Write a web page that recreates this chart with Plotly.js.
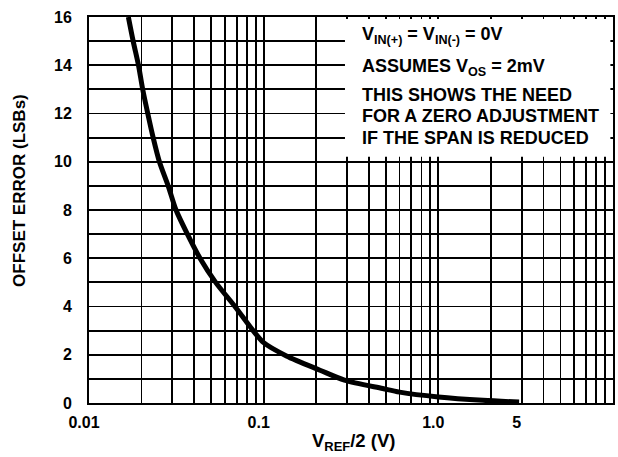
<!DOCTYPE html>
<html>
<head>
<meta charset="utf-8">
<script src="https://cdn.plot.ly/plotly-3.0.1.min.js"></script>
<style>html,body{margin:0;padding:0;background:#fff;}#chart{width:618px;height:457px;}</style>
</head>
<body>
<div id="chart"></div>
<script>
// Curve
var vrefHalf = [0.0168, 0.0179, 0.0192, 0.0203, 0.0217, 0.0233, 0.0253, 0.0284, 0.0315, 0.0366, 0.0432, 0.0531, 0.0685, 0.087, 0.1, 0.135, 0.21, 0.29, 0.48, 0.6, 1.0, 1.8, 2.9];
var offsetErr = [16, 15, 14, 13, 12, 11, 10, 9, 8, 7, 6, 5, 4, 3, 2.5, 1.95, 1.36, 0.95, 0.6, 0.45, 0.25, 0.11, 0.04];

// Axis ticks (grid positions; only some are labelled)
var xTickVals = [0.01,0.02,0.03,0.04,0.05,0.06,0.07,0.08,0.09,
                 0.1,0.2,0.3,0.4,0.5,0.6,0.7,0.8,0.9,
                 1,2,3,4,5,6,7,8,9,10];
var xTickText = ['0.01','','','','','','','','',
                 '0.1','','','','','','','','',
                 '1.0','','5','','','','','','',''];
var yTickVals = [0,1,2,3,4,5,6,7,8,9,10,11,12,13,14,15,16];
var yTickText = ['0','','2','','4','','6','','8','','10','','12','','14','','16'];

// Notes
var noteLines = [
  'V<sub>IN(+)</sub> = V<sub>IN(-)</sub> = 0V',
  'ASSUMES V<sub>OS</sub> = 2mV',
  'THIS SHOWS THE NEED',
  'FOR A ZERO ADJUSTMENT',
  'IF THE SPAN IS REDUCED'
];
var noteY = [0.952, 0.868, 0.799, 0.743, 0.687];
var xTitle = 'V<sub>REF</sub>/2 (V)';
var yTitle = 'OFFSET ERROR (LSBs)';

var FAM = '"Liberation Sans", Arial, Helvetica, sans-serif';

var trace = {
  x: vrefHalf, y: offsetErr, type: 'scatter', mode: 'lines',
  line: {color: '#000', width: 5, shape: 'spline', smoothing: 0.8},
  hoverinfo: 'skip'
};

var ann = noteLines.map(function(t, i){
  return {text: t, xref: 'paper', yref: 'paper', x: 0.517, y: noteY[i],
    xanchor: 'left', yanchor: 'middle', showarrow: false,
    font: {family: FAM, size: 18, color: '#000', weight: 'bold'}};
});
ann.push({text: xTitle, xref: 'paper', yref: 'paper', x: 0.504, y: -0.1,
  xanchor: 'center', yanchor: 'middle', showarrow: false,
  font: {family: FAM, size: 18.5, color: '#000', weight: 'bold'}});
ann.push({text: yTitle, xref: 'paper', yref: 'paper', x: -0.1317, y: 0.552,
  xanchor: 'center', yanchor: 'middle', showarrow: false, textangle: -90,
  font: {family: FAM, size: 17, color: '#000', weight: 'bold'}});

var layout = {
  width: 618, height: 457,
  margin: {l: 89, r: 5, t: 17, b: 54},
  paper_bgcolor: '#fff', plot_bgcolor: '#fff',
  showlegend: false,
  font: {family: FAM, color: '#000'},
  xaxis: {
    type: 'log', range: [-2, 1],
    tickmode: 'array', tickvals: xTickVals, ticktext: xTickText,
    tickfont: {family: FAM, size: 16, color: '#000', weight: 'bold'},
    ticks: '', ticklabelstandoff: 4, ticklabelshift: -5,
    showgrid: true, gridcolor: '#000', gridwidth: 1.8,
    showline: true, linecolor: '#000', linewidth: 2, mirror: true,
    zeroline: false, fixedrange: true
  },
  yaxis: {
    range: [0, 16],
    tickmode: 'array', tickvals: yTickVals, ticktext: yTickText,
    tickfont: {family: FAM, size: 16, color: '#000', weight: 'bold'},
    ticks: '', ticklabelstandoff: 12,
    showgrid: true, gridcolor: '#000', gridwidth: 1.8,
    showline: true, linecolor: '#000', linewidth: 2, mirror: true,
    zeroline: false, fixedrange: true
  },
  shapes: [{
    type: 'rect', xref: 'paper', yref: 'paper', x0: 0.4885, x1: 0.995, y0: 0.638, y1: 0.995,
    fillcolor: '#fff', line: {width: 0}, layer: 'above'
  }],
  annotations: ann
};

Plotly.newPlot('chart', [trace], layout, {staticPlot: true, displayModeBar: false});
</script>
</body>
</html>
